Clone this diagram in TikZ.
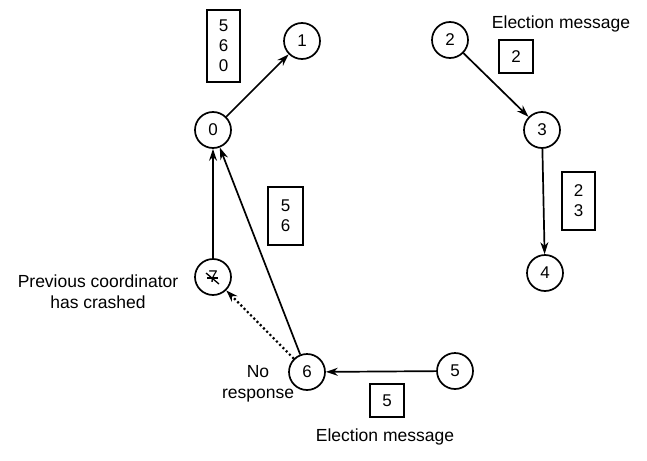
\documentclass[tikz,border=0pt]{standalone}
\usepackage{fontspec}
\setmainfont{Liberation Sans}
\usetikzlibrary{arrows.meta,calc}
\begin{document}
\begin{tikzpicture}[x=1pt,y=-1pt,
  proc/.style={circle,draw,line width=1.7pt,minimum size=36pt,inner sep=0pt,
    font=\fontsize{17}{17}\selectfont},
  msgbox/.style={draw,line width=2pt,inner sep=0pt,align=center,
    font=\fontsize{17}{20}\selectfont},
  lbl/.style={align=center,inner sep=0pt,font=\fontsize{17.5}{21}\selectfont},
  msg/.style={line width=1.7pt,-{Stealth[length=12pt,width=8pt]}},
  probe/.style={line width=2.2pt,dash pattern=on 2pt off 2.6pt,
    -{Stealth[length=12pt,width=8pt]}}]
\useasboundingbox (0,0) rectangle (647,460);

% processes on the ring
\node[proc] (p0) at (213,130) {0};
\node[proc] (p1) at (302,41) {1};
\node[proc] (p2) at (450,40) {2};
\node[proc] (p3) at (542,130) {3};
\node[proc] (p4) at (545,273) {4};
\node[proc] (p5) at (455,371) {5};
\node[proc] (p6) at (307,372) {6};
\node[proc] (p7) at (213,277) {7};
% the crashed coordinator is struck out
\draw[line width=1.3pt] ($(p7)+(-7,-4)$) -- ($(p7)+(6,7)$);
\draw[line width=1.3pt] ($(p7)+(-6,1)$) -- ($(p7)+(5,1)$);

% election messages with their lists
\node[msgbox,minimum width=33pt,minimum height=72pt] (b560) at (223.5,46) {5\\6\\0};
\node[msgbox,minimum width=35pt,minimum height=58pt] (b56) at (285.5,216) {5\\6};
\node[msgbox,minimum width=34pt,minimum height=33pt] (b2) at (516,56.5) {2};
\node[msgbox,minimum width=33pt,minimum height=58pt] (b23) at (578.5,201) {2\\3};
\node[msgbox,minimum width=34pt,minimum height=33pt] (b5) at (387,400.5) {5};

% labels
\node[lbl] (eltop) at (561,24) {Election message};
\node[lbl] (elbot) at (385,437) {Election message};
\node[lbl] (crash) at (98,292) {Previous coordinator\\has crashed};
\node[lbl] (nores) at (258,384) {No\\response};

% connectors
\draw[msg] (p0) -- (p1);
\draw[msg] (p2) -- (p3);
\draw[msg] (p3) -- (p4);
\draw[msg] (p5) -- (p6);
\draw[msg] (p6) -- (p0);
\draw[msg] (p7) -- (p0);
\draw[probe] (p6) -- (p7);
\end{tikzpicture}
\end{document}
